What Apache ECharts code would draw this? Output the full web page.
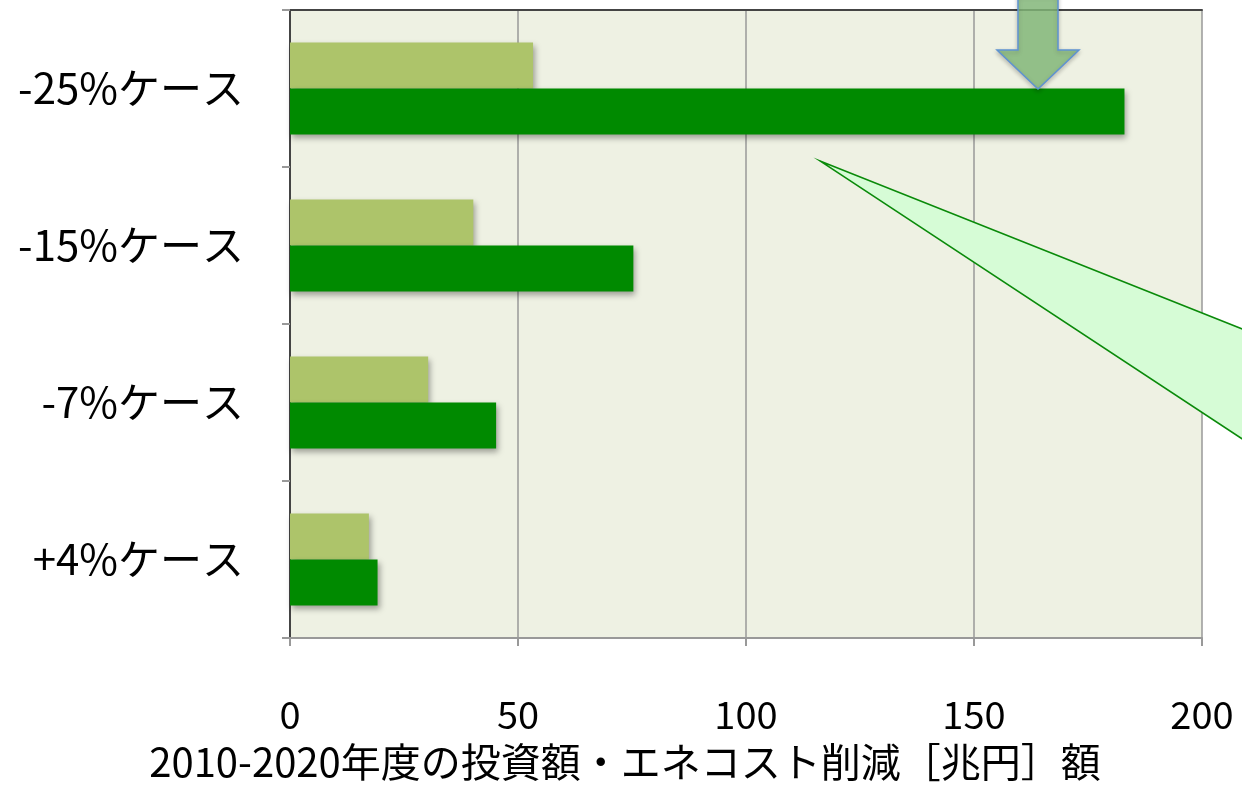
<!DOCTYPE html>
<html>
<head>
<meta charset="utf-8">
<script src="https://cdn.jsdelivr.net/npm/echarts@6/dist/echarts.min.js"></script>
<style>
    html, body { margin: 0; padding: 0; background: #fff; }
    #main { width: 1242px; height: 787px; }
</style>
</head>
<body>
<div id="main"></div>
<script>
// ケース (上から順)
let cases = ['-25%ケース', '-15%ケース', '-7%ケース', '+4%ケース']
// 投資額 (薄い緑)
let investValues = [53.3, 40.2, 30.3, 17.3]
// エネコスト削減額 (濃い緑)
let savingValues = [183, 75.3, 45.2, 19.2]
let xTicks = [0, 50, 100, 150, 200]

const font = "'Noto Sans CJK JP', 'Noto Sans', sans-serif"

onload = () => {
    let myChart = echarts.init(document.getElementById('main'))
    let option

    let barShadow = {
        shadowColor: 'rgba(0, 0, 0, 0.35)',
        shadowBlur: 6,
        shadowOffsetX: 2,
        shadowOffsetY: 3
    }

    option = {
        animation: false,
        backgroundColor: '#ffffff',
        grid: {
            left: 290,
            right: 40,
            top: 10,
            bottom: 147,
            show: true,
            backgroundColor: '#eef1e3',
            borderWidth: 0
        },
        xAxis: [
            {
                type: 'value',
                min: xTicks[0],
                max: xTicks[xTicks.length - 1],
                interval: 50,
                axisLine: { show: true, lineStyle: { color: '#999', width: 2 } },
                axisTick: { show: true, length: 8, lineStyle: { color: '#999', width: 2 } },
                splitLine: { show: true, lineStyle: { color: '#999', width: 1.5 } },
                axisLabel: { fontSize: 38, color: '#000', margin: 58, fontFamily: font },
                name: '2010-2020年度の投資額・エネコスト削減［兆円］額',
                nameLocation: 'middle',
                nameGap: 104,
                nameTextStyle: {
                    fontSize: 40,
                    color: '#000',
                    fontFamily: font,
                    padding: [0, 242, 0, 0]
                }
            },
            {
                type: 'value',
                position: 'top',
                min: xTicks[0],
                max: xTicks[xTicks.length - 1],
                interval: 50,
                axisLine: { show: true, lineStyle: { color: '#444', width: 2 } },
                axisTick: { show: false },
                splitLine: { show: false },
                axisLabel: { show: false }
            }
        ],
        yAxis: [
            {
                type: 'category',
                data: cases,
                inverse: true,
                axisLine: { show: true, lineStyle: { color: '#999', width: 2 } },
                axisTick: { show: true, length: 8, lineStyle: { color: '#999', width: 2 } },
                axisLabel: {
                    fontSize: 42,
                    color: '#000',
                    margin: 46,
                    fontFamily: font,
                    padding: [12, 0, 0, 0]
                }
            },
            {
                type: 'category',
                data: cases,
                inverse: true,
                position: 'right',
                axisLine: { show: true, lineStyle: { color: '#444', width: 2 } },
                axisTick: { show: false },
                axisLabel: { show: false }
            }
        ],
        series: [
            {
                name: '投資額',
                type: 'bar',
                data: investValues,
                barWidth: 46,
                barGap: '0%',
                itemStyle: Object.assign({ color: '#adc46a' }, barShadow)
            },
            {
                name: 'エネコスト削減額',
                type: 'bar',
                data: savingValues,
                barWidth: 46,
                barGap: '0%',
                itemStyle: Object.assign({ color: '#008a00' }, barShadow)
            }
        ],
        graphic: [
            // 下向き矢印
            {
                type: 'polygon',
                z: 100,
                shape: {
                    points: [[1018, -5], [1058, -5], [1058, 50], [1079, 50], [1038, 89], [997, 50], [1018, 50]]
                },
                style: {
                    fill: 'rgba(135, 190, 125, 0.8)',
                    stroke: '#5e92d2',
                    lineWidth: 1.5,
                    shadowColor: 'rgba(0, 0, 0, 0.25)',
                    shadowBlur: 4,
                    shadowOffsetY: 2
                }
            },
            // 吹き出し
            {
                type: 'polygon',
                z: 100,
                shape: {
                    points: [[820, 161], [1250, 332], [1250, 444]]
                },
                style: {
                    fill: '#d6fcd6',
                    stroke: '#0a8a0a',
                    lineWidth: 1.5
                }
            }
        ]
    }

    option && myChart.setOption(option)
}
</script>
</body>
</html>
